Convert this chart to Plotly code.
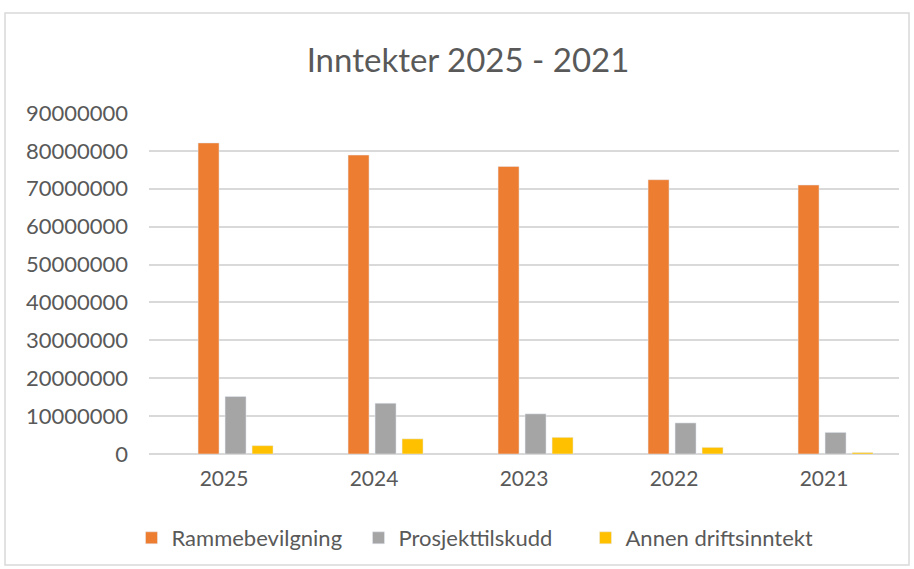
import plotly.graph_objects as go

years = ["2025", "2024", "2023", "2022", "2021"]
rammebevilgning = [82100000, 78900000, 75900000, 72400000, 71000000]
prosjekttilskudd = [15200000, 13400000, 10600000, 8200000, 5700000]
annen_driftsinntekt = [2200000, 4000000, 4400000, 1750000, 400000]
y_ticks = [0, 10000000, 20000000, 30000000, 40000000, 50000000, 60000000, 70000000, 80000000, 90000000]

FONT = "Lato"
TXT = "#595959"

# bar width / offsets in category units (1 category = 150 px)
BW = 0.14
fig = go.Figure()
fig.add_trace(go.Bar(name="Rammebevilgning", x=years, y=rammebevilgning, marker_color="#ED7D31",
                     width=BW, offset=-0.173))
fig.add_trace(go.Bar(name="Prosjekttilskudd", x=years, y=prosjekttilskudd, marker_color="#A5A5A5",
                     width=BW, offset=0.007))
fig.add_trace(go.Bar(name="Annen driftsinntekt", x=years, y=annen_driftsinntekt, marker_color="#FFC000",
                     width=BW, offset=0.187))

L, R, T, B = 149, 15, 113, 115
W, H = 914, 569
pw, ph = W - L - R, H - T - B

def px_x(x):
    return (x - L) / pw

def px_y(y):
    return (H - B - y) / ph

fig.update_layout(
    width=W, height=H,
    margin=dict(l=L, r=R, t=T, b=B, autoexpand=False),
    paper_bgcolor="white", plot_bgcolor="white",
    barmode="overlay",
    font=dict(family=FONT, color=TXT),
    title=dict(text="Inntekter 2025 - 2021", x=468 / W, xanchor="center",
               y=1 - 60 / H, yanchor="middle", font=dict(size=33, color=TXT, family=FONT)),
    xaxis=dict(tickfont=dict(size=21, color=TXT), showline=True, linecolor="#D9D9D9",
               ticks="", showgrid=False, ticklabelstandoff=6, range=[-0.5, 4.5]),
    yaxis=dict(range=[0, 90000000], tickvals=y_ticks, ticktext=[str(v) for v in y_ticks],
               tickfont=dict(size=22, color=TXT), gridcolor="#D9D9D9", gridwidth=1.5,
               zeroline=True, zerolinecolor="#D9D9D9", zerolinewidth=1.5, ticks="",
               ticklabelstandoff=20),
    legend=dict(orientation="h", x=px_x(472), xanchor="center", y=px_y(538), yanchor="middle",
                font=dict(size=22, color=TXT), itemwidth=30, traceorder="normal",
                entrywidth=182, entrywidthmode="pixels"),
    shapes=[dict(type="rect", xref="paper", yref="paper",
                 x0=px_x(5), x1=px_x(909), y0=px_y(565), y1=px_y(13),
                 line=dict(color="#D9D9D9", width=1.5), fillcolor="rgba(0,0,0,0)", layer="below")],
)

fig.write_html("out.html", config={"displayModeBar": False},
               post_script="document.body.style.margin='0';")
